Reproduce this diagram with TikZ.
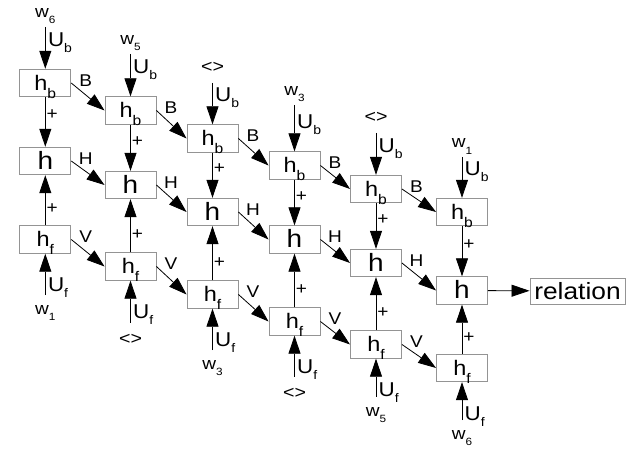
\documentclass[tikz,border=0pt]{standalone}
\usepackage{fontspec}
\setmainfont[FakeStretch=1.12]{Liberation Sans}
\usetikzlibrary{arrows.meta,calc}
\newcommand{\hsub}[1]{{\fontsize{21}{21}\selectfont h}\raisebox{-8pt}{\fontsize{14}{14}\selectfont #1}}
\newcommand{\hplain}{{\fontsize{25}{25}\selectfont h}}
\newcommand{\wl}[1]{w\raisebox{-6pt}{\fontsize{10.5}{10.5}\selectfont #1}}
\newcommand{\ang}{{\fontsize{17.5}{17.5}\selectfont <>}}
\newcommand{\Usub}[1]{{\fontsize{20}{20}\selectfont U}\raisebox{-6pt}{\fontsize{12.5}{12.5}\selectfont #1}}
\begin{document}
\begin{tikzpicture}[x=1pt,y=-1pt,
  cell/.style={draw=black!42, line width=0.9pt, minimum width=51pt, minimum height=27.5pt,
    inner sep=0pt, text height=21pt, text depth=6.5pt},
  cellh/.style={cell, text height=22pt, text depth=5.5pt},
  arr/.style={line width=0.8pt, -{Triangle[length=18pt,width=12pt]}},
  lab/.style={font=\fontsize{17}{17}\selectfont, inner sep=0pt},
  pl/.style={lab, xshift=7pt},
  ]
\useasboundingbox (0,0) rectangle (628,449);
\foreach \i/\x/\yb/\yh/\yf/\ts/\be/\tlab/\toff/\blab/\boff in {
  1/45.3/83/161/239.5/27/295/{\wl{6}}/9/{\wl{1}}/19.5,
  2/130.5/110.5/185/266.5/54/322.7/{\wl{5}}/9/{\ang}/21.5,
  3/212.5/138.5/212/294.5/83/350/{\ang}/10.5/{\wl{3}}/19.5,
  4/294.5/165.5/239.5/321.5/105/376.7/{\wl{3}}/9/{\ang}/21.5,
  5/376/189/263/344.5/133/396.7/{\ang}/10.5/{\wl{5}}/19.5,
  6/462/212/290.5/368/157/420/{\wl{1}}/9/{\wl{6}}/19.5}{
  \node[cell] (hb\i) at (\x,\yb) {\hsub{b}};
  \node[cellh] (h\i) at (\x,\yh) {\hplain};
  \node[cell] (hf\i) at (\x,\yf) {\hsub{f}};
  \coordinate (tb\i) at (\x,\ts);
  \coordinate (bf\i) at (\x,\be);
  \node[lab, anchor=base] (tl\i) at (\x,{\ts-\toff}) {\tlab};
  \node[lab, anchor=base] (bl\i) at (\x,{\be+\boff}) {\blab};
  \node[inner sep=0pt, anchor=base west] (ub\i) at ({\x+2.5},{\yb-36.75}) {\Usub{b}};
  \node[inner sep=0pt, anchor=base west] (uf\i) at ({\x+2.5},{\yf+52.25}) {\Usub{f}};
  \draw[arr] (tb\i) -- (hb\i);
  \draw[arr] (bf\i) -- (hf\i);
  \draw[arr] (hb\i) -- node[pl, pos=0.36] (pb\i) {+} (h\i);
  \draw[arr] (hf\i) -- node[pl, pos=0.33] (pf\i) {+} (h\i);
}
\foreach \i/\j in {1/2,2/3,3/4,4/5,5/6}{
  \draw[arr] (hb\i.east) -- (hb\j.west);
  \draw[arr] (h\i.east) -- (h\j.west);
  \draw[arr] (hf\i.east) -- (hf\j.west);
  \node[lab] (lb\i) at ($(hb\i.east)+(14.5,-2.5)$) {B};
  \node[lab] (lh\i) at ($(h\i.east)+(14.5,-2.5)$) {H};
  \node[lab] (lv\i) at ($(hf\i.east)+(14.5,-2.5)$) {V};
}
\node[cellh, minimum width=95pt, minimum height=26pt, text height=21pt, text depth=5pt] (rel) at (577.5,291) {\fontsize{23.5}{23.5}\selectfont relation};
\draw[arr] (h6) -- (rel);
\end{tikzpicture}
\end{document}
